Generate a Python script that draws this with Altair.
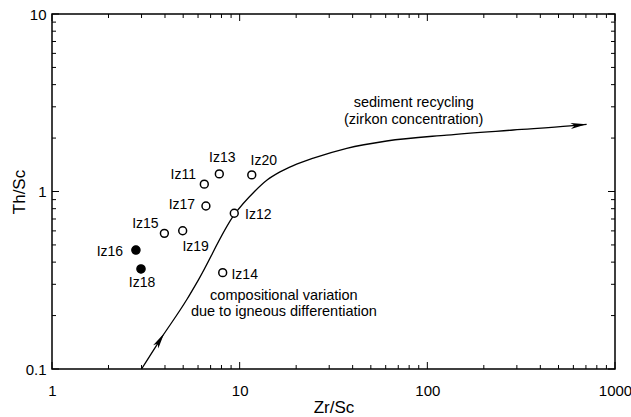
import altair as alt
import pandas as pd

# ---- data ----
labels = ["Iz11", "Iz12", "Iz13", "Iz14", "Iz15", "Iz16", "Iz17", "Iz18", "Iz19", "Iz20"]
zr_sc = [6.48, 9.36, 7.79, 8.12, 3.97, 2.80, 6.61, 2.98, 4.97, 11.6]
th_sc = [1.10, 0.754, 1.256, 0.349, 0.581, 0.468, 0.828, 0.366, 0.601, 1.24]
filled = [False, False, False, False, False, True, False, True, False, False]

curve_zr = [3.0, 3.76, 5.21, 6.02, 9.36, 12.0, 14.0, 16.4, 19.3, 24.7, 37.2, 60.7, 127, 287, 575, 706]
curve_th = [0.1, 0.1456, 0.2447, 0.317, 0.74, 1.0, 1.16, 1.29, 1.40, 1.54, 1.75, 1.925, 2.08, 2.22, 2.34, 2.39]

arrow_zr = [3.76, 640]
arrow_th = [0.1456, 2.365]

ann_text = ["sediment recycling", "(zirkon concentration)",
            "compositional variation", "due to igneous differentiation"]
ann_zr = [84.6, 84.6, 17.2, 17.2]
ann_th = [3.14, 2.54, 0.259, 0.2085]

x_major = [1, 10, 100, 1000]
x_minor = [2, 3, 4, 5, 6, 7, 8, 9, 20, 30, 40, 50, 60, 70, 80, 90,
           200, 300, 400, 500, 600, 700, 800, 900]
y_major = [0.1, 1, 10]
y_minor = [0.2, 0.3, 0.4, 0.5, 0.6, 0.7, 0.8, 0.9, 2, 3, 4, 5, 6, 7, 8, 9]

# ---- layout / style ----
W, H = 563, 355
FONT = "Liberation Sans"
MAJ, MIN = 7, 4

pts = pd.DataFrame({"label": labels, "zr": zr_sc, "th": th_sc, "filled": filled})
curve = pd.DataFrame({"zr": curve_zr, "th": curve_th})
arrows = pd.DataFrame({"zr": arrow_zr, "th": arrow_th, "i": [0, 1]})
ann = pd.DataFrame({"t": ann_text, "zr": ann_zr, "th": ann_th})

xs = alt.Scale(type="log", domain=[1, 1000], nice=False)
ys = alt.Scale(type="log", domain=[0.1, 10], nice=False)

xaxis = alt.Axis(values=x_major, format="~g", title="Zr/Sc", labelFlush=False,
                 labelPadding=14, titleY=38, titleBaseline="middle",
                 grid=False, ticks=False, domain=False)
yaxis = alt.Axis(values=y_major, format="~g", title="Th/Sc", labelPadding=6,
                 titleX=-33, titleY=H / 2, titleAngle=270, titleBaseline="middle",
                 grid=False, ticks=False, domain=False)

X = alt.X("zr:Q", scale=xs, axis=xaxis)
Y = alt.Y("th:Q", scale=ys, axis=yaxis)

layers = []

# curve
layers.append(alt.Chart(curve).mark_line(color="black", strokeWidth=1.3,
                                         interpolate="monotone").encode(x=X, y=Y))

# arrowheads
ARROW = "M1,0L-1,-0.38L-0.5,0L-1,0.38Z"
for i, ang in [(0, 302), (1, 354)]:
    layers.append(alt.Chart(arrows).transform_filter(alt.datum.i == i).mark_point(
        shape=ARROW, size=256, filled=True, color="black", opacity=1,
        strokeWidth=0, angle=ang).encode(x=X, y=Y))

# ticks (inward)
def xticks(vals, length, top):
    df = pd.DataFrame({"zr": vals})
    if top:
        enc = dict(y=alt.value(0), y2=alt.value(length))
    else:
        enc = dict(y=alt.value(H), y2=alt.value(H - length))
    return alt.Chart(df).mark_rule(color="black", strokeWidth=1).encode(x=X, **enc)

def yticks(vals, length, right):
    df = pd.DataFrame({"th": vals})
    if right:
        enc = dict(x=alt.value(W), x2=alt.value(W - length))
    else:
        enc = dict(x=alt.value(0), x2=alt.value(length))
    return alt.Chart(df).mark_rule(color="black", strokeWidth=1).encode(y=Y, **enc)

for side in [False, True]:
    layers.append(xticks(x_major, MAJ, side))
    layers.append(xticks(x_minor, MIN, side))
    layers.append(yticks(y_major, MAJ, side))
    layers.append(yticks(y_minor, MIN, side))

# points
layers.append(alt.Chart(pts).transform_filter(alt.datum.filled == False).mark_point(
    shape="circle", size=62, filled=True, fill="white", stroke="black",
    strokeWidth=1.5, opacity=1).encode(x=X, y=Y))
layers.append(alt.Chart(pts).transform_filter(alt.datum.filled == True).mark_point(
    shape="circle", size=70, filled=True, fill="black", stroke="black",
    strokeWidth=1.2, opacity=1).encode(x=X, y=Y))

# point labels
offsets = {
    "Iz11": (-21, -9), "Iz12": (24, 2), "Iz13": (3, -16), "Iz14": (22, 2),
    "Iz15": (-19, -9), "Iz16": (-26, 2), "Iz17": (-24, -1), "Iz18": (1, 14),
    "Iz19": (13, 16), "Iz20": (12, -14),
}
for name, (dx, dy) in offsets.items():
    layers.append(alt.Chart(pts).transform_filter(alt.datum.label == name).mark_text(
        font=FONT, fontSize=14, color="black", dx=dx, dy=dy, align="center",
        baseline="middle").encode(x=X, y=Y, text="label:N"))

# annotations
layers.append(alt.Chart(ann).mark_text(font=FONT, fontSize=14.5, color="black",
                                       align="center", baseline="middle").encode(
    x=X, y=Y, text="t:N"))

chart = alt.layer(*layers).properties(
    width=W, height=H,
    autosize=alt.AutoSizeParams(type="none"),
    padding={"left": 52, "top": 14, "right": 16, "bottom": 48},
    background="white",
).configure_view(
    stroke="black", strokeWidth=1.5
).configure_axis(
    grid=False, ticks=False, tickSize=0, domain=False,
    labelFont=FONT, labelFontSize=15, labelColor="black",
    titleFont=FONT, titleFontSize=17, titleFontWeight="normal", titleColor="black",
)

chart.save("out.html", embed_options={"renderer": "svg", "actions": False})
